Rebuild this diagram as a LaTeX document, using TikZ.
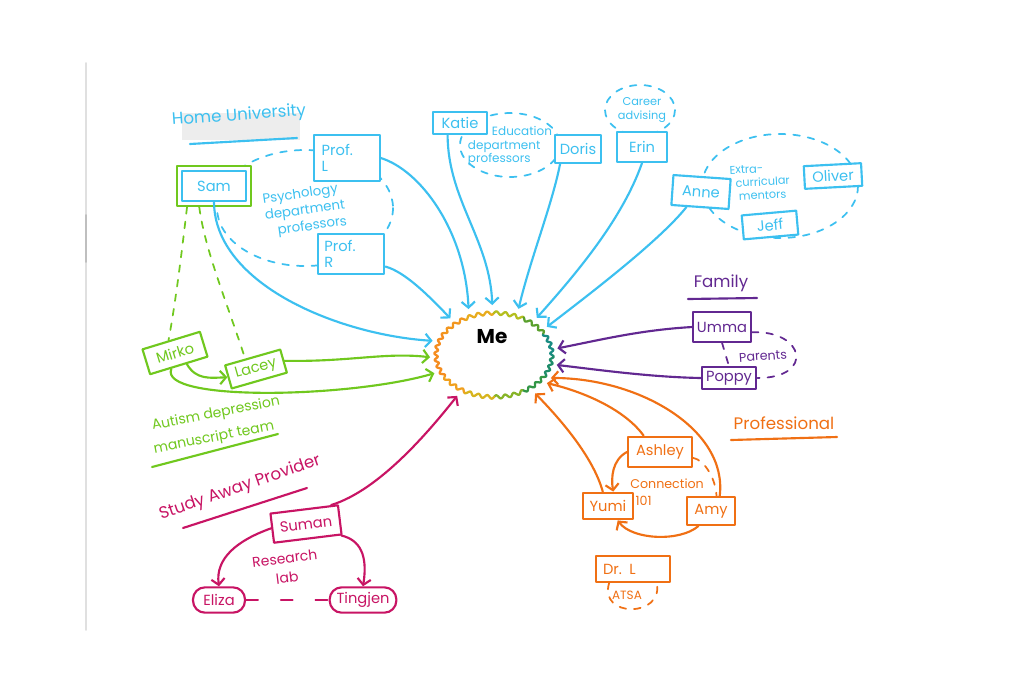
\documentclass[tikz,border=0pt]{standalone}
\usepackage{fontspec}
\setmainfont{Poppins}
\usetikzlibrary{arrows.meta,shapes.geometric}
\definecolor{cblue}{RGB}{60,192,240}
\definecolor{cgreen}{RGB}{112,200,30}
\definecolor{cpurple}{RGB}{98,40,145}
\definecolor{corange}{RGB}{240,112,20}
\definecolor{cmag}{RGB}{200,20,100}
\definecolor{m0}{RGB}{25,140,130}
\definecolor{m1}{RGB}{30,140,105}
\definecolor{m2}{RGB}{50,150,70}
\definecolor{m3}{RGB}{135,180,40}
\definecolor{m4}{RGB}{215,180,30}
\definecolor{m5}{RGB}{240,160,30}
\definecolor{m6}{RGB}{245,140,30}
\definecolor{m7}{RGB}{242,150,30}
\definecolor{m8}{RGB}{232,172,30}
\definecolor{m9}{RGB}{180,190,30}
\definecolor{m10}{RGB}{90,160,45}
\definecolor{m11}{RGB}{40,150,85}
\begin{document}
\begin{tikzpicture}[x=0.75pt,y=-0.75pt,line cap=round,line join=round,
  arr/.style={line width=1.6pt,-{Straight Barb[length=4.5pt,width=10pt]}},
  box/.style={draw=#1,text=#1,fill=white,line width=1.6pt,inner sep=1pt,font=\fontsize{11}{12}\selectfont},
  dsh/.style={line width=1.3pt,dash pattern=on 5pt off 6pt},
  ttl/.style={font=\fontsize{12.5}{14}\selectfont,inner sep=0pt},
  sub/.style={font=\fontsize{9}{10}\selectfont,inner sep=0pt,align=left},
  uline/.style={line width=1.6pt}]
\useasboundingbox (0,0) rectangle (1024,683);
\fill[white] (0,0) rectangle (1024,683);
% page edge
\draw[black!12,line width=1.2pt] (86,63) -- (86,630);
\draw[black!25,line width=1.2pt] (86,215) -- (86,262);

% ---------- Me cloud ----------
\foreach \a/\b/\c in {0/30/m1,30/60/m2,60/90/m3,90/120/m4,120/150/m5,150/180/m6,180/210/m6,210/240/m7,240/270/m8,270/300/m9,300/330/m10,330/360/m0}
  \draw[\c,line width=1.7pt] plot[smooth,domain=\a:\b,samples=41,variable=\t]
    ({494+(58+1.7*sin(40*\t))*cos(\t)},{355+(42+1.7*sin(40*\t))*sin(\t)});
\node[ellipse,minimum width=96pt,minimum height=75pt,inner sep=0pt,outer sep=0pt] (me) at (494,355) {};
\node[font=\fontsize{15}{16}\selectfont\bfseries] (metxt) at (492,337) {Me};

% ---------- Home University (blue) ----------
\fill[black!7] (182,113) rectangle (300,140);
\node[ttl,cblue,rotate=4] (homeu) at (239,116) {Home University};
\draw[cblue,uline] (190,144) -- (297,138);
\draw[cblue,dsh] (305,208) ellipse [x radius=88, y radius=58];
\node[sub,cblue,rotate=8,font=\fontsize{10}{12.5}\selectfont] (psych) at (305,211) {Psychology\\department\\\hspace*{8pt}professors};
\node[box=cgreen,minimum width=55.5pt,minimum height=30pt] (samg) at (214,186) {};
\node[box=cblue,minimum width=48pt,minimum height=23pt] (sam) at (214,186) {Sam};
\node[box=cblue,minimum width=49pt,minimum height=35pt,text width=38pt,align=left] (profl) at (347,158) {Prof.\\L};
\node[box=cblue,minimum width=50pt,minimum height=30pt,text width=40pt,align=left] (profr) at (351,254) {Prof.\\R};

% Education
\draw[cblue,dsh] (510,145) ellipse [x radius=50, y radius=32];
\node[sub,cblue] (edu) at (510,146) {\hspace*{18pt}Education\\department\\professors};
\node[box=cblue,minimum width=41pt,minimum height=17pt] (katie) at (460,123) {Katie};
\node[box=cblue,minimum width=35pt,minimum height=21pt] (doris) at (578,149) {Doris};
% Career
\draw[cblue,dsh] (640,110) ellipse [x radius=35, y radius=25];
\node[sub,cblue,align=center,font=\fontsize{8.5}{10}\selectfont] (career) at (642,110) {Career\\advising};
\node[box=cblue,minimum width=37pt,minimum height=22.5pt] (erin) at (642,147) {Erin};
% Extra-curricular
\draw[cblue,dsh] (780,186) ellipse [x radius=78, y radius=52];
\node[sub,cblue,rotate=3,font=\fontsize{8.5}{10}\selectfont] (extra) at (760,182) {Extra-\\\hspace*{4pt}curricular\\\hspace*{6pt}mentors};
\node[box=cblue,minimum width=43pt,minimum height=22.5pt,rotate=-4] (anne) at (701,192) {Anne};
\node[box=cblue,minimum width=43pt,minimum height=17pt,rotate=3] (oliver) at (833,176) {Oliver};
\node[box=cblue,minimum width=41pt,minimum height=18pt,rotate=5] (jeff) at (770,225) {Jeff};

% blue arrows
\draw[cblue,arr] (sam.south) .. controls (215,285) and (340,335) .. (me.167);
\draw[cblue,arr] (profr.-20) .. controls (405,272) and (428,295) .. (me.140);
\draw[cblue,arr] (profl.east) .. controls (420,170) and (465,230) .. (me.119);
\draw[cblue,arr] (katie.-135) .. controls (448,200) and (490,240) .. (me.92);
\draw[cblue,arr] (doris.-140) .. controls (552,205) and (530,260) .. (me.62);
\draw[cblue,arr] (erin.south) .. controls (622,220) and (575,275) .. (me.41);
\draw[cblue,arr] (anne.-130) .. controls (660,240) and (595,290) .. (me.28);

% ---------- Family (purple) ----------
\node[ttl,cpurple] (family) at (721,283) {Family};
\draw[cpurple,uline] (688,299) -- (757,298);
\node[box=cpurple,minimum width=43pt,minimum height=22pt] (umma) at (722,327) {Umma};
\node[box=cpurple,minimum width=41pt,minimum height=16pt] (poppy) at (729,378) {Poppy};
\draw[cpurple,dsh] (umma.south) -- (poppy.north);
\draw[cpurple,dsh] (umma.-10) .. controls (805,330) and (815,378) .. (poppy.east);
\node[sub,cpurple,rotate=4,font=\fontsize{9.5}{10}\selectfont] (parents) at (763,356) {Parents};
\draw[cpurple,arr] (umma.west) .. controls (640,330) and (600,340) .. (me.6);
\draw[cpurple,arr] (poppy.west) .. controls (650,377) and (600,370) .. (me.-9);

% ---------- Professional (orange) ----------
\node[ttl,corange] (prof) at (784,423) {Professional};
\draw[corange,uline] (731,440) -- (837,437);
\node[box=corange,minimum width=48pt,minimum height=23pt] (ashley) at (660,452) {Ashley};
\node[box=corange,minimum width=37.5pt,minimum height=20pt] (yumi) at (608,506) {Yumi};
\node[box=corange,minimum width=36pt,minimum height=21pt] (amy) at (711,511) {Amy};
\node[sub,corange,anchor=north west,font=\fontsize{9.5}{12.5}\selectfont] (conn) at (630,479) {Connection\\\hspace*{4pt}101};
\draw[corange,dsh] (ashley.-10) .. controls (705,460) and (716,480) .. (amy.70);
\draw[corange,arr] (ashley.west) .. controls (612,460) and (611,478) .. (yumi.70);
\draw[corange,arr] (amy.-130) .. controls (680,542) and (632,540) .. (yumi.-56);
\draw[corange,arr] (yumi.110) .. controls (594,460) and (566,425) .. (me.-43);
\draw[corange,arr] (ashley.135) .. controls (625,410) and (585,392) .. (me.-28);
\draw[corange,arr] (amy.60) .. controls (728,430) and (640,378) .. (me.-22);
% Dr. L / ATSA
\node[box=corange,minimum width=55pt,minimum height=19pt,text width=45pt,align=left] (drl) at (633,569) {Dr. L};
\draw[corange,dsh] (drl.-150) .. controls (598,618) and (664,618) .. (drl.-30);
\node[sub,corange,font=\fontsize{9}{10}\selectfont] (atsa) at (627,595) {ATSA};

% ---------- Autism depression manuscript team (green) ----------
\node[box=cgreen,minimum width=45pt,minimum height=19.5pt,rotate=17] (mirko) at (175,353) {Mirko};
\node[box=cgreen,minimum width=43pt,minimum height=18pt,rotate=16] (lacey) at (256,369) {Lacey};
\draw[cgreen,dsh] (samg.-142) .. controls (182,250) and (176,300) .. (mirko.100);
\draw[cgreen,dsh] (samg.-125) .. controls (205,250) and (226,300) .. (lacey.120);
\draw[cgreen,arr] (mirko.-60) .. controls (196,380) and (210,378) .. (lacey.west);
\draw[cgreen,arr] (lacey.east) .. controls (350,362) and (385,352) .. (me.182);
\draw[cgreen,arr] (mirko.-120) .. controls (158,402) and (350,398) .. (me.197);
\node[sub,cgreen,rotate=11,font=\fontsize{10.5}{12}\selectfont] (autism1) at (216,414) {Autism depression};
\node[sub,cgreen,rotate=11,font=\fontsize{10.5}{12}\selectfont] (autism2) at (214,438) {manuscript team};
\draw[cgreen,uline] (152,467) -- (278,434);

% ---------- Study Away Provider (magenta) ----------
\node[ttl,cmag,rotate=19] (study) at (240,488) {Study Away Provider};
\draw[cmag,uline] (183,528) -- (307,488);
\node[box=cmag,minimum width=51pt,minimum height=22pt,rotate=7] (suman) at (306,524) {Suman};
\node[box=cmag,minimum width=39pt,minimum height=19pt,rounded corners=9pt] (eliza) at (219,600) {Eliza};
\node[box=cmag,minimum width=50pt,minimum height=19pt,rounded corners=9pt] (tingjen) at (363,600) {Tingjen};
\node[sub,cmag,align=center,rotate=7,font=\fontsize{10.5}{15}\selectfont] (research) at (286,568) {Research\\lab};
\draw[cmag,line width=1.3pt,dash pattern=on 9pt off 17pt] (eliza.east) -- (tingjen.west);
\draw[cmag,arr] (suman.west) .. controls (238,540) and (215,558) .. (eliza.north);
\draw[cmag,arr] (suman.-25) .. controls (360,540) and (368,555) .. (tingjen.north);
\draw[cmag,arr] (suman.30) .. controls (380,490) and (430,430) .. (me.228);
\end{tikzpicture}
\end{document}
